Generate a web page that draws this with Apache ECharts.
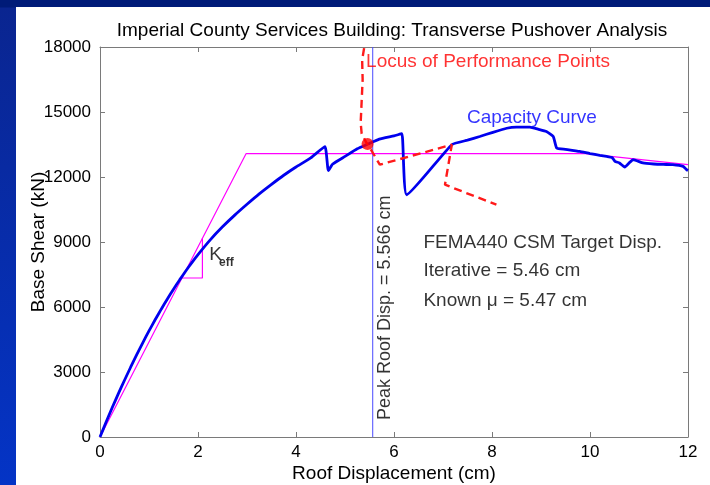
<!DOCTYPE html>
<html>
<head>
<meta charset="utf-8">
<title>Transverse Pushover Analysis</title>
<script src="https://cdn.jsdelivr.net/npm/echarts@6/dist/echarts.min.js"></script>
<style>
  html, body {
    margin: 0;
    padding: 0;
    width: 710px;
    height: 485px;
    overflow: hidden;
    background: linear-gradient(to bottom, #001b78 0px, #001b78 7px, #0a2590 8px, #0434c6 485px);
  }
  #chart {
    position: absolute;
    left: 16px;
    top: 7px;
    width: 694px;
    height: 478px;
    background: #fff;
  }
</style>
</head>
<body>
<div id="chart"></div>
<script>
  // capacity curve (roof displacement cm, base shear kN)
  var capX = [0, 0.125, 0.25, 0.375, 0.5, 0.625, 0.75, 0.875, 1.0, 1.125, 1.25, 1.375, 1.5, 1.625, 1.75, 1.875, 2.0, 2.25, 2.5, 2.75,
    3.0, 3.25, 3.5, 3.75, 4.0, 4.3, 4.59,
    4.66, 4.75, 5.0, 5.25, 5.47, 5.7, 6.0, 6.16, 6.26, 7.18, 7.5, 7.75, 8.0, 8.3, 8.5, 8.77, 8.95, 9.11, 9.25,
    9.32, 9.5, 9.79, 10.0, 10.2, 10.34, 10.45, 10.51, 10.6, 10.71, 10.8, 10.88, 11.08, 11.3, 11.5, 11.69, 11.9, 11.97, 12.0]
  var capY = [0, 690, 1360, 2000, 2620, 3220, 3800, 4360, 4900, 5410, 5900, 6370, 6820, 7250, 7660, 8050, 8420, 9100, 9700, 10240,
    10740, 11220, 11660, 12080, 12460, 12880, 13400,
    12300, 12600, 12950, 13300, 13520, 13750, 13900, 14000, 11180, 13490, 13700, 13870, 14050, 14250, 14300, 14300, 14200, 14100, 13870,
    13340, 13280, 13180, 13080, 13000, 12950, 12900, 12720, 12650, 12460, 12650, 12800, 12650, 12600, 12580, 12570, 12490, 12340, 12300]

  // idealised bilinear curve
  var biX = [0, 2.98, 9.9, 12]
  var biY = [0, 13075, 13075, 12570]

  // K_eff slope triangle
  var keffX = [1.67, 2.09, 2.09]
  var keffY = [7338, 7338, 9170]

  // locus of performance points
  var locusX = [5.39, 5.35, 5.36, 5.34, 5.32, 5.34, 5.44, 5.52, 5.71, 7.18, 7.04, 8.09]
  var locusY = [17950, 17400, 16500, 15500, 14500, 14000, 13570, 13300, 12570, 13490, 11645, 10720]

  // performance point and peak roof displacement
  var perfPoint = [5.46, 13520]
  var peakDisp = 5.566

  // axes
  var xTicks = [0, 2, 4, 6, 8, 10, 12]
  var yTicks = [0, 3000, 6000, 9000, 12000, 15000, 18000]

  // annotation texts and where they sit (data coordinates)
  var noteText = ['Locus of Performance Points', 'Capacity Curve', 'FEMA440 CSM Target Disp.',
    'Iterative = 5.46 cm', 'Known \u03bc = 5.47 cm', 'K', 'eff', 'Peak Roof Disp. = 5.566 cm']
  var noteX = [5.43, 7.49, 6.60, 6.60, 6.60, 2.23, 2.43, 5.82]
  var noteY = [17297, 14713, 8967, 7652, 6267, 8413, 8044, 5967]

  function pairs (xs, ys) {
    var out = []
    for (var i = 0; i < xs.length; i++) out.push([xs[i], ys[i]])
    return out
  }

  var FONT = '"Liberation Sans", Arial, Helvetica, sans-serif'
  var AXIS_COLOR = '#7a7a7a'
  var TEXT_COLOR = '#000'

  //注释样式
  var noteStyle = [
    {color: '#ff0000', fontSize: 19, align: 'left'},
    {color: '#0000ff', fontSize: 19, align: 'left'},
    {color: TEXT_COLOR, fontSize: 19, align: 'left'},
    {color: TEXT_COLOR, fontSize: 19, align: 'left'},
    {color: TEXT_COLOR, fontSize: 19, align: 'left'},
    {color: TEXT_COLOR, fontSize: 19, align: 'left'},
    {color: TEXT_COLOR, fontSize: 12, align: 'left', fontWeight: 'bold'},
    {color: TEXT_COLOR, fontSize: 18, align: 'center', rotate: 90}
  ]

  var notes = []
  for (var i = 0; i < noteText.length; i++) {
    var st = noteStyle[i]
    notes.push({
      value: [noteX[i], noteY[i]],
      label: {
        show: true,
        position: [0, 0],
        formatter: noteText[i],
        color: st.color,
        fontSize: st.fontSize,
        fontWeight: st.fontWeight || 'normal',
        fontFamily: FONT,
        align: st.align,
        verticalAlign: 'middle',
        rotate: st.rotate || 0
      }
    })
  }

  var axisCommon = {
    type: 'value',
    nameMoveOverlap: false,
    axisLine: {show: true, onZero: false, lineStyle: {color: AXIS_COLOR, width: 1}},
    axisTick: {show: true, inside: true, length: 5, lineStyle: {color: AXIS_COLOR}},
    splitLine: {show: false}
  }

  var myChart = echarts.init(document.getElementById('chart'))
  var option = {
    animation: false,
    title: {
      text: 'Imperial County Services Building: Transverse Pushover Analysis',
      left: 371,
      top: 9,
      textAlign: 'center',
      textStyle: {fontFamily: FONT, fontSize: 19, fontWeight: 'normal', color: TEXT_COLOR}
    },
    grid: {left: 84, right: 22, top: 40, bottom: 48, outerBoundsMode: 'none', containLabel: false},
    xAxis: [
      Object.assign({}, axisCommon, {
        position: 'bottom',
        min: xTicks[0],
        max: xTicks[xTicks.length - 1],
        interval: xTicks[1] - xTicks[0],
        name: 'Roof Displacement (cm)',
        nameLocation: 'middle',
        nameGap: 27,
        nameTextStyle: {fontFamily: FONT, fontSize: 19, color: TEXT_COLOR},
        axisLabel: {fontFamily: FONT, fontSize: 17, color: TEXT_COLOR, margin: 7}
      }),
      Object.assign({}, axisCommon, {
        position: 'top',
        min: xTicks[0],
        max: xTicks[xTicks.length - 1],
        interval: xTicks[1] - xTicks[0],
        axisLabel: {show: false}
      })
    ],
    yAxis: [
      Object.assign({}, axisCommon, {
        position: 'left',
        min: yTicks[0],
        max: yTicks[yTicks.length - 1],
        interval: yTicks[1] - yTicks[0],
        name: 'Base Shear (kN)',
        nameLocation: 'middle',
        nameGap: 52,
        nameTextStyle: {fontFamily: FONT, fontSize: 19, color: TEXT_COLOR},
        axisLabel: {
          fontFamily: FONT, fontSize: 17, color: TEXT_COLOR, margin: 9,
          formatter: function (v) { return String(v) }
        }
      }),
      Object.assign({}, axisCommon, {
        position: 'right',
        min: yTicks[0],
        max: yTicks[yTicks.length - 1],
        interval: yTicks[1] - yTicks[0],
        axisLabel: {show: false}
      })
    ],
    series: [
      {
        name: 'Bilinear',
        type: 'line',
        data: pairs(biX, biY),
        symbol: 'none',
        lineStyle: {color: '#ff00ff', width: 1.2},
        z: 2
      },
      {
        name: 'Keff',
        type: 'line',
        data: pairs(keffX, keffY),
        symbol: 'none',
        lineStyle: {color: '#ff00ff', width: 1.2},
        z: 2
      },
      {
        name: 'Peak Roof Disp.',
        type: 'line',
        data: [[peakDisp, yTicks[0]], [peakDisp, yTicks[yTicks.length - 1]]],
        symbol: 'none',
        lineStyle: {color: '#4a4aff', width: 1},
        z: 3
      },
      {
        name: 'Capacity Curve',
        type: 'line',
        data: pairs(capX, capY),
        symbol: 'none',
        smooth: 0.15,
        lineStyle: {color: '#0000ee', width: 2.8},
        z: 4
      },
      {
        name: 'Locus of Performance Points',
        type: 'line',
        data: pairs(locusX, locusY),
        symbol: 'none',
        lineStyle: {color: '#ff1a1a', width: 2.4, type: [8, 5]},
        z: 5
      },
      {
        name: 'Performance Point',
        type: 'scatter',
        data: [perfPoint],
        symbol: 'circle',
        symbolSize: 12,
        itemStyle: {color: '#ff0000'},
        z: 6
      },
      {
        name: 'notes',
        type: 'scatter',
        data: notes,
        symbolSize: 0,
        silent: true,
        z: 7
      }
    ]
  }
  myChart.setOption(option, true)
</script>
</body>
</html>
